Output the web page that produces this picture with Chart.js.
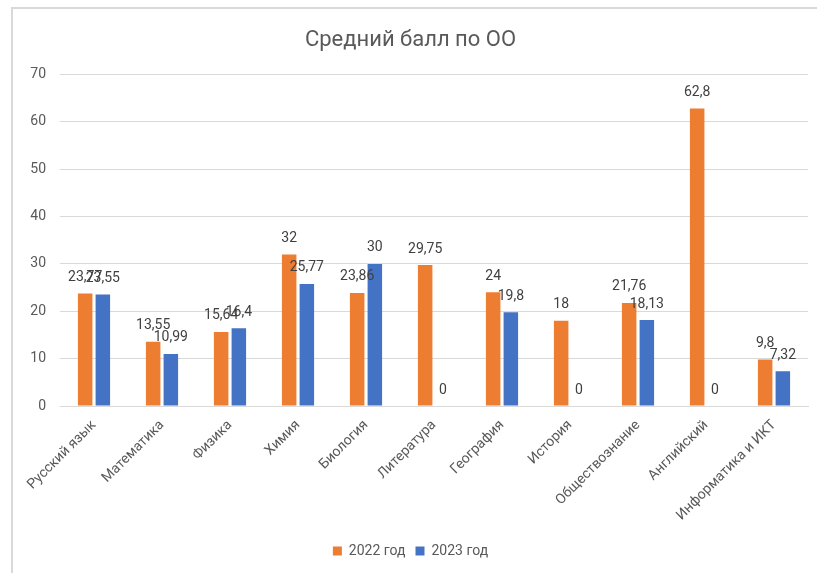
<!DOCTYPE html>
<html>
<head>
    <meta charset="utf-8">
    <title>Средний балл по ОО</title>
    <script src="https://cdn.jsdelivr.net/npm/chart.js@4.4.0/dist/chart.umd.min.js"></script>
    <style>
        body { margin: 0; background: #fff; overflow: hidden; }
        .frame {
            position: absolute; left: 11px; top: 7px; width: 820px; height: 580px;
            border-top: 2px solid #D9D9D9; border-left: 2px solid #D9D9D9;
        }
        .box { position: absolute; left: 13px; top: 9px; width: 804px; height: 564px; }
    </style>
</head>
<body>
    <div class="frame"></div>
    <div class="box"><canvas id="myChart"></canvas></div>

    <script>
        var subjects = ["Русский язык", "Математика", "Физика", "Химия", "Биология", "Литература",
            "География", "История", "Обществознание", "Английский", "Информатика и ИКТ"];
        var year2022 = [23.77, 13.55, 15.64, 32, 23.86, 29.75, 24, 18, 21.76, 62.8, 9.8];
        var year2023 = [23.55, 10.99, 16.4, 25.77, 30, 0, 19.8, 0, 18.13, 0, 7.32];
        var seriesNames = ["2022 год", "2023 год"];
        var yTicks = [0, 10, 20, 30, 40, 50, 60, 70];

        var fontName = "Roboto, 'Noto Sans', sans-serif";
        var textColor = "#595959";

        // draws the value above every bar, with a comma as decimal mark
        var valueLabels = {
            id: "valueLabels",
            afterDatasetsDraw: function (chart) {
                var ctx = chart.ctx;
                ctx.save();
                ctx.font = "14px " + fontName;
                ctx.fillStyle = "#404040";
                ctx.textAlign = "center";
                ctx.textBaseline = "middle";
                chart.data.datasets.forEach(function (ds, i) {
                    var meta = chart.getDatasetMeta(i);
                    meta.data.forEach(function (bar, j) {
                        var txt = String(ds.data[j]).replace(".", ",");
                        ctx.fillText(txt, bar.x, bar.y - 16);
                    });
                });
                ctx.restore();
            }
        };

        var ctx = document.getElementById("myChart").getContext("2d");
        new Chart(ctx, {
            type: "bar",
            data: {
                labels: subjects,
                datasets: [{
                    label: seriesNames[0],
                    data: year2022,
                    backgroundColor: "#ED7D31"
                }, {
                    label: seriesNames[1],
                    data: year2023,
                    backgroundColor: "#4472C4"
                }]
            },
            plugins: [valueLabels],
            options: {
                responsive: true,
                maintainAspectRatio: false,
                animation: false,
                categoryPercentage: 0.52,
                barPercentage: 0.82,
                layout: { padding: { left: 0, right: 9, top: 0, bottom: 5 } },
                plugins: {
                    title: {
                        display: true,
                        text: "Средний балл по ОО",
                        color: textColor,
                        font: { family: fontName, size: 22, weight: "normal" },
                        padding: { top: 18, bottom: 21 }
                    },
                    legend: {
                        position: "bottom",
                        labels: {
                            color: textColor,
                            font: { family: fontName, size: 14 },
                            boxWidth: 9,
                            boxHeight: 9,
                            padding: 10
                        }
                    },
                    tooltip: { enabled: false }
                },
                scales: {
                    x: {
                        grid: { display: false },
                        border: { color: "#D9D9D9" },
                        ticks: {
                            color: textColor,
                            font: { family: fontName, size: 14 },
                            minRotation: 45,
                            maxRotation: 45,
                            autoSkip: false
                        },
                        afterFit: function (axis) { axis.height = 128; }
                    },
                    y: {
                        min: 0,
                        max: 70,
                        afterBuildTicks: function (axis) {
                            axis.ticks = yTicks.map(function (v) { return { value: v }; });
                        },
                        grid: { color: "#D9D9D9", drawTicks: false },
                        border: { display: false },
                        ticks: {
                            color: textColor,
                            font: { family: fontName, size: 14 },
                            padding: 14
                        },
                        afterFit: function (axis) { axis.width = 47; }
                    }
                }
            }
        });
    </script>
</body>
</html>
